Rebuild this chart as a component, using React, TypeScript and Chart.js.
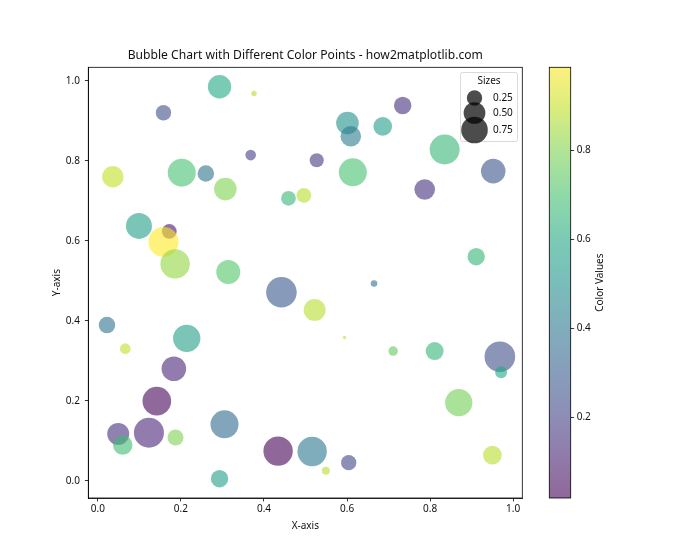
import React, { useEffect, useRef } from 'react';
import { Chart, registerables } from 'chart.js';

Chart.register(...registerables);

// ---- data ----
const xValues = [
  0.293, 0.376, 0.158, 0.368, 0.036, 0.202, 0.26, 0.307, 0.459, 0.496,
  0.099, 0.172, 0.158, 0.186, 0.314, 0.601, 0.609, 0.686, 0.734, 0.527,
  0.614, 0.835, 0.952, 0.787, 0.911, 0.442, 0.522, 0.022, 0.066, 0.214,
  0.183, 0.142, 0.049, 0.06, 0.123, 0.187, 0.305, 0.293, 0.434, 0.516,
  0.665, 0.594, 0.711, 0.811, 0.968, 0.971, 0.869, 0.95, 0.604, 0.549,
];
const yValues = [
  0.985, 0.968, 0.92, 0.814, 0.76, 0.77, 0.768, 0.729, 0.706, 0.713,
  0.637, 0.623, 0.597, 0.542, 0.522, 0.894, 0.861, 0.886, 0.938, 0.801,
  0.771, 0.828, 0.774, 0.728, 0.56, 0.471, 0.427, 0.389, 0.33, 0.356,
  0.28, 0.199, 0.117, 0.089, 0.12, 0.108, 0.141, 0.005, 0.074, 0.073,
  0.493, 0.358, 0.324, 0.324, 0.31, 0.271, 0.195, 0.064, 0.045, 0.025,
];
const sizeValues = [
  0.58, 0.03, 0.25, 0.12, 0.485, 0.83, 0.29, 0.54, 0.23, 0.23,
  0.715, 0.23, 0.95, 0.915, 0.61, 0.54, 0.45, 0.37, 0.32, 0.21,
  0.83, 0.95, 0.64, 0.45, 0.32, 0.99, 0.51, 0.29, 0.12, 0.79,
  0.64, 0.87, 0.51, 0.4, 0.95, 0.27, 0.83, 0.32, 0.915, 0.915,
  0.046, 0.012, 0.094, 0.34, 0.99, 0.15, 0.79, 0.37, 0.25, 0.068,
];
const colorValues = [
  0.6, 0.88, 0.25, 0.2, 0.9, 0.7, 0.38, 0.8, 0.66, 0.88,
  0.55, 0.08, 0.987, 0.83, 0.72, 0.5, 0.42, 0.55, 0.15, 0.18,
  0.7, 0.66, 0.27, 0.15, 0.65, 0.28, 0.88, 0.38, 0.9, 0.55,
  0.12, 0.03, 0.15, 0.68, 0.12, 0.8, 0.35, 0.55, 0.019, 0.4,
  0.38, 0.9, 0.75, 0.65, 0.25, 0.6, 0.78, 0.88, 0.22, 0.88,
];
const xTicks = [0, 0.2, 0.4, 0.6, 0.8, 1.0];
const yTicks = [0, 0.2, 0.4, 0.6, 0.8, 1.0];
const colorbarTicks = [0.2, 0.4, 0.6, 0.8];
const legendSizes = [0.25, 0.5, 0.75];
const legendLabels = ['0.25', '0.50', '0.75'];

const TITLE = 'Bubble Chart with Different Color Points - how2matplotlib.com';
const FONT = '"Noto Sans", "DejaVu Sans", sans-serif';
const ALPHA = 0.6;
const MAX_R = 15.37; // px radius of a size-1.0 bubble
const TEXT = '#111';

const VIRIDIS = ['#440154', '#482475', '#414487', '#355f8d', '#2a788e', '#21918c', '#22a884', '#44bf70', '#7ad151', '#bddf26', '#fde725'];
function hexToRgb(h: string) {
  return [parseInt(h.slice(1, 3), 16), parseInt(h.slice(3, 5), 16), parseInt(h.slice(5, 7), 16)];
}
function viridis(t: number, a: number) {
  const tt = Math.max(0, Math.min(1, t)) * (VIRIDIS.length - 1);
  const i = Math.min(Math.floor(tt), VIRIDIS.length - 2);
  const f = tt - i;
  const c0 = hexToRgb(VIRIDIS[i]);
  const c1 = hexToRgb(VIRIDIS[i + 1]);
  const c = c0.map((v, k) => Math.round(v + (c1[k] - v) * f));
  return `rgba(${c[0]},${c[1]},${c[2]},${a})`;
}

const vmin = Math.min(...colorValues);
const vmax = Math.max(...colorValues);
const norm = (v: number) => (v - vmin) / (vmax - vmin);
const radius = (s: number) => MAX_R * Math.sqrt(s);

const decorPlugin = {
  id: 'decor',
  afterDraw(chart: any) {
    const { ctx, chartArea } = chart;
    const { left, right, top, bottom } = chartArea;
    ctx.save();
    // frame
    ctx.strokeStyle = '#000';
    ctx.lineWidth = 0.8;
    ctx.strokeRect(left, top, right - left, bottom - top);
    // title
    ctx.fillStyle = TEXT;
    ctx.font = `12.1px ${FONT}`;
    ctx.textAlign = 'center';
    ctx.textBaseline = 'middle';
    ctx.fillText(TITLE, (left + right) / 2, 56);

    // legend
    const lx = 460.5, ly = 72.5, lw = 57, lh = 69;
    ctx.beginPath();
    const rr = 2;
    ctx.moveTo(lx + rr, ly);
    ctx.arcTo(lx + lw, ly, lx + lw, ly + lh, rr);
    ctx.arcTo(lx + lw, ly + lh, lx, ly + lh, rr);
    ctx.arcTo(lx, ly + lh, lx, ly, rr);
    ctx.arcTo(lx, ly, lx + lw, ly, rr);
    ctx.closePath();
    ctx.fillStyle = 'rgba(255,255,255,0.8)';
    ctx.fill();
    ctx.strokeStyle = '#d0d0d0';
    ctx.lineWidth = 0.8;
    ctx.stroke();
    ctx.fillStyle = TEXT;
    ctx.font = `10px ${FONT}`;
    ctx.textAlign = 'center';
    ctx.fillText('Sizes', 489, 81.5);
    const ys = [98, 113, 130];
    legendSizes.forEach((s, i) => {
      ctx.beginPath();
      ctx.arc(474.5, ys[i], radius(s), 0, Math.PI * 2);
      ctx.fillStyle = 'rgba(0,0,0,0.7)';
      ctx.fill();
    });
    ctx.fillStyle = TEXT;
    ctx.textAlign = 'left';
    legendLabels.forEach((l, i) => ctx.fillText(l, 493, ys[i] + 0.5));

    // colorbar
    const cx0 = 549.3, cx1 = 570.7;
    const grad = ctx.createLinearGradient(0, bottom, 0, top);
    for (let k = 0; k <= 40; k++) grad.addColorStop(k / 40, viridis(k / 40, ALPHA));
    ctx.fillStyle = grad;
    ctx.fillRect(cx0, top, cx1 - cx0, bottom - top);
    ctx.strokeStyle = '#000';
    ctx.lineWidth = 0.8;
    ctx.strokeRect(cx0, top, cx1 - cx0, bottom - top);
    ctx.fillStyle = TEXT;
    ctx.font = `10px ${FONT}`;
    ctx.textAlign = 'left';
    ctx.textBaseline = 'middle';
    colorbarTicks.forEach((v) => {
      const py = bottom - norm(v) * (bottom - top);
      ctx.beginPath();
      ctx.moveTo(cx1, py);
      ctx.lineTo(cx1 + 3.4, py);
      ctx.stroke();
      ctx.fillText(v.toFixed(1), cx1 + 6, py);
    });
    ctx.save();
    ctx.translate(600, (top + bottom) / 2);
    ctx.rotate(-Math.PI / 2);
    ctx.textAlign = 'center';
    ctx.fillText('Color Values', 0, 0);
    ctx.restore();
    ctx.restore();
  },
};

export default function App() {
  const ref = useRef<HTMLCanvasElement>(null);
  useEffect(() => {
    const canvas = ref.current;
    if (!canvas) return;
    const points = xValues.map((x, i) => ({ x, y: yValues[i], r: radius(sizeValues[i]) }));
    const colors = colorValues.map((c) => viridis(norm(c), ALPHA));
    const tickFont = { family: FONT, size: 10 };
    const chart = new Chart(canvas, {
      type: 'bubble',
      data: {
        datasets: [
          {
            data: points,
            backgroundColor: colors,
            borderWidth: 0,
            hoverRadius: 0,
          } as any,
        ],
      },
      options: {
        responsive: false,
        animation: false,
        devicePixelRatio: 1,
        layout: { padding: { left: 0, right: 177.7, top: 67.3, bottom: 0 } },
        plugins: { legend: { display: false }, tooltip: { enabled: false }, title: { display: false } },
        scales: {
          x: {
            type: 'linear',
            min: -0.023,
            max: 1.022,
            afterBuildTicks: (s: any) => {
              s.ticks = xTicks.map((v) => ({ value: v }));
            },
            afterFit: (s: any) => {
              s.height = 62;
            },
            ticks: { font: tickFont, color: TEXT, padding: 2, maxRotation: 0, callback: (v: any) => Number(v).toFixed(1) },
            grid: { display: true, drawOnChartArea: false, drawTicks: true, tickLength: 3.4, tickColor: '#000', tickWidth: 0.8 },
            border: { display: true, color: '#000', width: 0.8 },
            title: { display: true, text: 'X-axis', font: tickFont, color: TEXT, padding: { top: 0, bottom: 28 } },
          },
          y: {
            type: 'linear',
            min: -0.0433,
            max: 1.0335,
            afterBuildTicks: (s: any) => {
              s.ticks = yTicks.map((v) => ({ value: v }));
            },
            afterFit: (s: any) => {
              s.width = 88.3;
            },
            ticks: { font: tickFont, color: TEXT, padding: 5, callback: (v: any) => Number(v).toFixed(1) },
            grid: { display: true, drawOnChartArea: false, drawTicks: true, tickLength: 3.4, tickColor: '#000', tickWidth: 0.8 },
            border: { display: true, color: '#000', width: 0.8 },
            title: { display: true, text: 'Y-axis', font: tickFont, color: TEXT, padding: { top: 51, bottom: 0 } },
          },
        },
      },
      plugins: [decorPlugin],
    } as any);
    return () => chart.destroy();
  }, []);
  return (
    <div style={{ position: 'fixed', left: 0, top: 0, width: 700, height: 560, background: '#fff' }}>
      <canvas ref={ref} width={700} height={560} style={{ width: 700, height: 560, display: 'block' }} />
    </div>
  );
}
